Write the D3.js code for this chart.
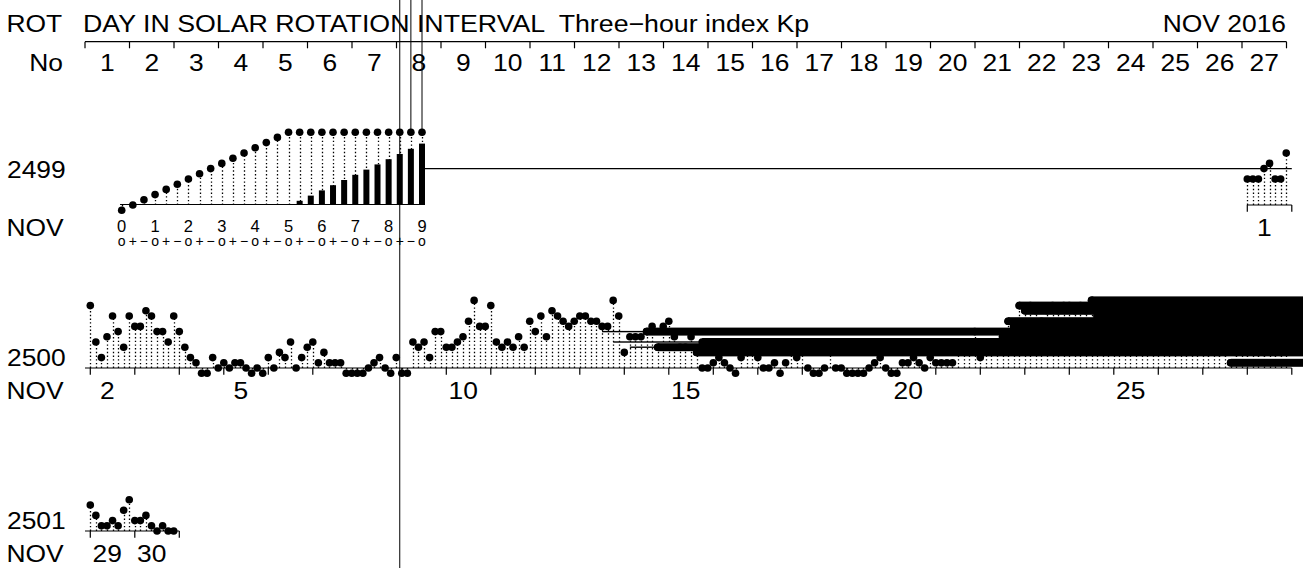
<!DOCTYPE html>
<html>
<head>
<meta charset="utf-8">
<script src="https://cdn.jsdelivr.net/npm/d3@7"></script>
<style>
html, body { margin: 0; padding: 0; background: #fff; }
svg { display: block; }
text { font-family: "Liberation Sans", Arial, Helvetica, sans-serif; fill: #000; white-space: pre; }
</style>
</head>
<body>
<svg id="chart" width="1303" height="568"></svg>
<script>
// 数据
const monthName = 'NOV'
const yearLabel = 'NOV 2016'
const rotations = [2499, 2500, 2501]
const firstRotStart = -26.119 // days after Nov 1 00UT where rotation 2499 begins
const rotDays = 27
const monthDays = 30

// three-hour Kp in thirds (0o=0, 0+=1, 1-=2, 1o=3 ...), Nov 1 .. Nov 30
const kpNov = [
  [6, 6, 6, 8, 9, 6, 6, 11],
  [13, 6, 3, 7, 11, 8, 5, 11],
  [9, 9, 12, 11, 8, 8, 6, 11],
  [8, 5, 3, 2, 0, 0, 3, 1],
  [2, 1, 2, 2, 1, 0, 1, 0],
  [3, 1, 4, 3, 6, 1, 3, 5],
  [6, 2, 4, 2, 2, 2, 0, 0],
  [0, 0, 1, 2, 3, 1, 0, 3],
  [0, 0, 6, 5, 6, 3, 8, 8],
  [5, 5, 6, 7, 10, 14, 9, 9],
  [13, 6, 5, 6, 5, 7, 5, 10],
  [8, 11, 7, 12, 11, 10, 9, 10],
  [11, 11, 10, 10, 9, 9, 14, 11],
  [4, 7, 7, 7, 8, 9, 5, 9],
  [10, 7, 5, 5, 7, 4, 1, 1],
  [2, 3, 2, 1, 0, 3, 5, 5],
  [3, 1, 1, 2, 0, 2, 4, 3],
  [6, 1, 0, 0, 1, 5, 1, 1],
  [0, 0, 0, 0, 1, 2, 3, 1],
  [0, 0, 2, 2, 3, 2, 1, 3],
  [2, 2, 2, 2, 5, 6, 5, 8],
  [3, 5, 6, 6, 7, 10, 9, 13],
  [12, 13, 12, 10, 12, 13, 12, 13],
  [13, 12, 13, 12, 14, 11, 12, 13],
  [10, 9, 8, 7, 6, 7, 8, 6],
  [5, 6, 7, 6, 5, 4, 5, 6],
  [5, 4, 5, 4, 4, 2, 4, 5],
  [4, 5, 4, 4, 5, 4, 4, 5],
  [6, 4, 2, 2, 3, 2, 5, 7],
  [3, 3, 4, 2, 1, 2, 1, 1]
]

// legend scale: 0o .. 9o
const legendValues = d3.range(0, 28)
const legendSigns = ['o', '+', '−']
const legendDigits = d3.range(0, 10)

// smeared marks in rotation 2500: [day, slot, kp, kind]
const smearRot = 2500
const smears = [
  [13, 4, 8, 'thin'],
  [13, 6, 6, 'thin'],
  [14, 1, 5, 'thin'],
  [14, 4, 8, 'thick'],
  [14, 6, 5, 'thick'],
  [15, 5, 4, 'thick'],
  [15, 6, 6, 'thick'],
  [22, 4, 7, 'thick'],
  [22, 5, 10, 'thick'],
  [22, 6, 9, 'thick'],
  [22, 7, 13, 'thick'],
  [23, 0, 12, 'thick'],
  [24, 4, 14, 'thick'],
  [24, 5, 11, 'thick'],
  [27, 5, 2, 'thick']
]
// vertical traces from legend marks: [legend index, down to page bottom]
const spikes = [[25, true], [26, false], [27, false]]
const refLevel = 8

// 布局
const svg = d3.select('#chart')
const W = 1303
const H = 568
const x0 = 85
const dayW = 44.5
const rowGap = 163
const firstBase = 205
const kpStep = 5.2
const capKp = 15
const dotR = 3.8
const stretch = 1.1

const rotX = d3.scaleLinear().domain([0, rotDays]).range([x0, x0 + rotDays * dayW])

function label(x, y, str, size, anchor, sx) {
  return svg.append('text')
    .attr('transform', `translate(${x},${y}) scale(${sx || stretch},1)`)
    .attr('font-size', size)
    .attr('text-anchor', anchor || 'start')
    .text(str)
}

function kpScale(base) {
  return d3.scaleLinear()
    .domain([0, capKp])
    .range([base + kpStep, base + kpStep - capKp * kpStep])
    .clamp(true)
}

function drawStems(g, data, xf, yf, base) {
  g.selectAll('.stem')
    .data(data)
    .enter()
    .append('line')
    .attr('class', 'stem')
    .attr('x1', d => Math.round(xf(d)) + 0.5)
    .attr('x2', d => Math.round(xf(d)) + 0.5)
    .attr('y1', base)
    .attr('y2', d => yf(d))
    .attr('stroke', '#000')
    .attr('stroke-width', 1.3)
    .attr('stroke-dasharray', '1.4,2.3')
}

function drawDots(g, data, xf, yf) {
  g.selectAll('.dot')
    .data(data)
    .enter()
    .append('circle')
    .attr('class', 'dot')
    .attr('cx', d => xf(d))
    .attr('cy', d => yf(d))
    .attr('r', dotR)
    .attr('fill', '#000')
}

// 顶部标题
label(6.5, 31.7, 'ROT', 24)
label(83, 31.7, 'DAY IN SOLAR ROTATION INTERVAL  Three−hour index Kp', 24, 'start', 1.115)
label(1286, 31.7, yearLabel, 24, 'end')
label(63, 71, 'No', 24, 'end')

svg.append('line')
  .attr('x1', rotX(0)).attr('x2', rotX(rotDays))
  .attr('y1', 41.7).attr('y2', 41.7)
  .attr('stroke', '#000').attr('stroke-width', 1.2)
svg.selectAll('.rot-tick')
  .data(d3.range(0, rotDays + 1))
  .enter()
  .append('line')
  .attr('class', 'rot-tick')
  .attr('x1', d => rotX(d)).attr('x2', d => rotX(d))
  .attr('y1', 41.7).attr('y2', 48.3)
  .attr('stroke', '#000').attr('stroke-width', 1.2)
d3.range(1, rotDays + 1).forEach(d => label(rotX(d - 0.5), 71, d, 24, 'middle'))

// 每一行
rotations.forEach((rot, ri) => {
  const base = firstBase + rowGap * ri
  const t0 = firstRotStart + rotDays * ri
  const x = d3.scaleLinear().domain([t0, t0 + rotDays]).range([x0, x0 + rotDays * dayW])
  const y = kpScale(base)
  const g = svg.append('g').attr('class', `row-${rot}`)

  const pts = []
  kpNov.forEach((day, di) => day.forEach((k, s) => {
    const t = di + s / 8
    if (t >= t0 && t < t0 + rotDays) pts.push({ t, k })
  }))

  // 日期轴
  const tStart = Math.max(t0, 0)
  const tEnd = Math.min(Math.ceil(t0 + rotDays), monthDays)
  g.append('line')
    .attr('x1', x(tStart)).attr('x2', x(tEnd))
    .attr('y1', base).attr('y2', base)
    .attr('stroke', '#000').attr('stroke-width', 1.2)
  const dayTicks = d3.range(Math.ceil(tStart), tEnd + 1)
  g.selectAll('.date-tick')
    .data(dayTicks)
    .enter()
    .append('line')
    .attr('class', 'date-tick')
    .attr('x1', d => x(d)).attr('x2', d => x(d))
    .attr('y1', base).attr('y2', base + 6.7)
    .attr('stroke', '#000').attr('stroke-width', 1.2)
  dayTicks.slice(0, -1).forEach(t => {
    const dayNum = t + 1
    if (t === dayTicks[0] || dayNum % 5 === 0) {
      label(x0 + (t - Math.ceil(t0) + 0.5) * dayW, base + 30.5, dayNum, 24, 'middle')
    }
  })

  // 行标签
  const rowLabelY = ri === 0 ? y(refLevel) + 9 : base - 2
  label(7, rowLabelY, rot, 24)
  label(6.5, base + 30.5, monthName, 24)

  drawStems(g, pts, d => x(d.t), d => y(d.k), base)
  drawDots(g, pts, d => x(d.t), d => y(d.k))

  // 图例
  if (ri === 0) {
    const lx = d3.scaleLinear().domain([0, 27]).range([121.7, 422])
    const lg = svg.append('g').attr('class', 'legend')
    lg.append('line')
      .attr('x1', lx(-0.15)).attr('x2', lx(27.25))
      .attr('y1', base - 0.5).attr('y2', base - 0.5)
      .attr('stroke', '#000').attr('stroke-width', 1.2)
    drawStems(lg, legendValues, d => lx(d), d => y(d), base)
    lg.selectAll('.bar')
      .data(legendValues.filter(d => d > capKp))
      .enter()
      .append('rect')
      .attr('class', 'bar')
      .attr('x', d => lx(d) - 3)
      .attr('width', 6)
      .attr('y', d => base + 1 - (d - capKp) * kpStep)
      .attr('height', d => (d - capKp) * kpStep - 1)
      .attr('fill', '#000')
    drawDots(lg, legendValues, d => lx(d), d => y(d))
    legendDigits.forEach(n => {
      lg.append('text')
        .attr('x', lx(n * 3)).attr('y', base + 27)
        .attr('font-size', 16.5).attr('text-anchor', 'middle')
        .text(n)
    })
    legendValues.forEach(v => {
      lg.append('text')
        .attr('x', lx(v)).attr('y', base + 40.5)
        .attr('font-size', 14).attr('text-anchor', 'middle')
        .text(legendSigns[v % 3])
    })

    // 参考线
    g.append('line')
      .attr('x1', lx(27)).attr('x2', x(tEnd))
      .attr('y1', y(refLevel)).attr('y2', y(refLevel))
      .attr('stroke', '#000').attr('stroke-width', 1.1)

    svg.selectAll('.spike')
      .data(spikes)
      .enter()
      .append('line')
      .attr('class', 'spike')
      .attr('x1', d => lx(d[0])).attr('x2', d => lx(d[0]))
      .attr('y1', 0)
      .attr('y2', d => d[1] ? H : y(d[0]))
      .attr('stroke', '#000').attr('stroke-width', 1)
  }

  // 拖影
  if (rot === smearRot) {
    const sg = svg.append('g').attr('class', 'smears')
    smears.forEach(([day, slot, k, kind]) => {
      const xs = x(day - 1 + slot / 8)
      const yc = y(k)
      const h = kind === 'thick' ? dotR * 2 + 0.4 : 1.4
      sg.append('rect')
        .attr('x', xs).attr('y', yc - h / 2)
        .attr('width', W - xs).attr('height', h)
        .attr('fill', '#000')
      if (kind === 'thick') {
        sg.append('circle').attr('cx', xs).attr('cy', yc).attr('r', dotR).attr('fill', '#000')
      }
    })
  }
})
</script>
</body>
</html>
